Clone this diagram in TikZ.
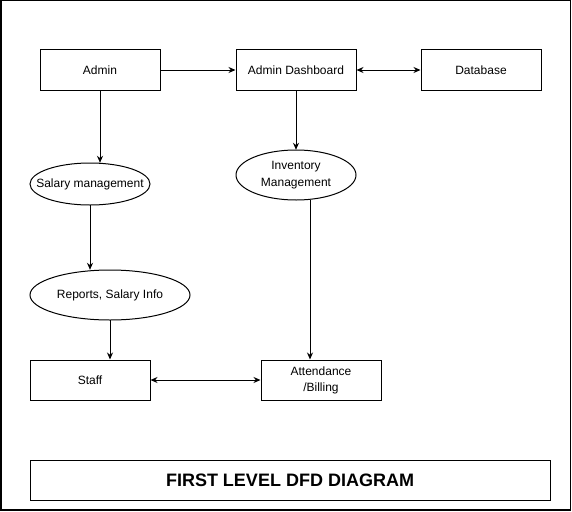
\documentclass[tikz,border=0pt]{standalone}
\usepackage{fontspec}
\setmainfont{Liberation Sans}
\usetikzlibrary{arrows.meta}
\begin{document}
\begin{tikzpicture}[x=1pt,y=-1pt,
  box/.style={draw,line width=1pt,minimum width=120pt,minimum height=40pt,inner sep=0pt,align=center,font=\fontsize{12}{16}\selectfont},
  proc/.style={inner sep=0pt,align=center,font=\fontsize{12}{17}\selectfont},
  flow/.style={line width=1pt,-{Stealth[length=7pt,width=6pt]}},
  biflow/.style={line width=1pt,{Stealth[length=7pt,width=6pt]}-{Stealth[length=7pt,width=6pt]}}]
\useasboundingbox (0,0) rectangle (572,511);
\draw[line width=1.5pt] (0.75,0.75) rectangle (570.5,510);
\node[box] (admin) at (100,70) {Admin};
\node[box] (dash) at (296,70) {Admin Dashboard};
\node[box] (db) at (481,70) {Database};
\node[proc,minimum width=120pt,minimum height=42pt] (sal) at (90,184) {Salary management};
\draw[line width=1pt] (sal.center) ellipse (60 and 21);
\node[proc,minimum width=120pt,minimum height=50pt] (inv) at (296,175) {Inventory\\Management};
\draw[line width=1pt] (inv.center) ellipse (60 and 25);
\node[proc,minimum width=160pt,minimum height=50pt] (rep) at (110,295) {Reports, Salary Info};
\draw[line width=1pt] (rep.center) ellipse (80 and 25);
\node[box] (staff) at (90,380) {Staff};
\node[box] (att) at (321,380) {Attendance\\/Billing};
\node[box,minimum width=520pt,font=\fontsize{18}{20}\selectfont\bfseries] (title) at (290,480) {FIRST LEVEL DFD DIAGRAM};
\coordinate (i1) at (310,199.5);
\draw[flow] (admin) -- (dash);
\draw[biflow] (dash) -- (db);
\draw[flow] (admin.south) -- (sal.north -| admin.south);
\draw[flow] (dash.south) -- (inv.north);
\draw[flow] (sal.south) -- (rep.north -| sal.south);
\draw[flow] (rep.south) -- (staff.north -| rep.south);
\draw[flow] (i1) -- (att.north -| i1);
\draw[biflow] (staff) -- (att);
\end{tikzpicture}
\end{document}
